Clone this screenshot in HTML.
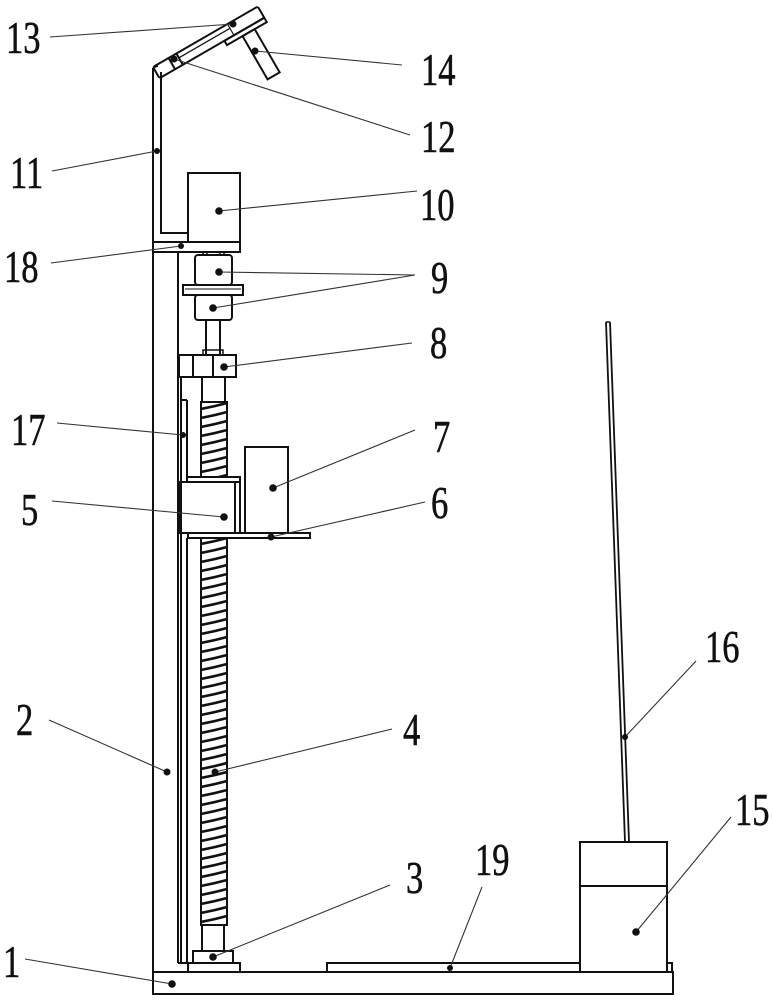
<!DOCTYPE html>
<html>
<head>
<meta charset="utf-8">
<style>
  html,body{margin:0;padding:0;background:#fff;}
  svg{display:block;}
  text{font-family:"Liberation Serif","DejaVu Serif",serif;font-size:46px;fill:#111;stroke:#111;stroke-width:0.6;}
</style>
</head>
<body>
<svg width="773" height="1000" viewBox="0 0 773 1000" xmlns="http://www.w3.org/2000/svg">
<defs>
  <pattern id="th" x="201" y="402" width="26" height="9" patternUnits="userSpaceOnUse">
    <path d="M0,7 Q13,4.5 26,1" fill="none" stroke="#111" stroke-width="2.6"/>
  </pattern>
</defs>
<rect x="0" y="0" width="773" height="1000" fill="#fff"/>

<g fill="none" stroke="#111" stroke-width="2">
  <rect x="153" y="972" width="520" height="22"/>
  <line x1="153" y1="68" x2="153" y2="994"/>
  <line x1="178" y1="252" x2="178" y2="963"/>
  <line x1="178" y1="963" x2="188" y2="963"/>
  <line x1="181" y1="377" x2="181" y2="963"/>
  <line x1="181" y1="400" x2="187" y2="400"/>
  <line x1="187" y1="400" x2="187" y2="477"/>
  <line x1="187" y1="538" x2="187" y2="963"/>

  <path d="M161,72 V233 H188"/>
  <path d="M153,70 Q154,66 158,66"/>

  <rect x="153" y="242" width="87" height="10"/>
  <rect x="188" y="173" width="52" height="69"/>

  <rect x="203" y="252" width="4" height="3" stroke-width="1.5"/>
  <rect x="220" y="252" width="4" height="3" stroke-width="1.5"/>
  <rect x="195" y="255" width="37" height="30" rx="3"/>
  <rect x="183" y="285" width="60" height="10"/>
  <line x1="185" y1="289" x2="241" y2="289" stroke-width="1"/>
  <rect x="195" y="295" width="37" height="25" rx="3"/>
  <rect x="206" y="320" width="14" height="35"/>
  <rect x="203" y="350" width="20" height="5" stroke-width="1.5"/>
  <rect x="179" y="355" width="57" height="22"/>
  <line x1="193" y1="355" x2="193" y2="377"/>
  <line x1="213" y1="355" x2="213" y2="377"/>
  <rect x="202" y="377" width="23" height="25"/>

  <rect x="187" y="477" width="53" height="5"/>
  <rect x="180" y="482" width="60" height="51"/>
  <line x1="235" y1="482" x2="235" y2="533"/>
  <rect x="188" y="533" width="122" height="5"/>
  <rect x="245" y="447" width="43" height="86"/>

  <rect x="202" y="925" width="22" height="26"/>
  <rect x="193" y="951" width="40" height="12"/>
  <rect x="188" y="963" width="52" height="9"/>

  <rect x="327" y="963" width="253" height="9"/>
  <rect x="580" y="842" width="87" height="130"/>
  <line x1="580" y1="886" x2="667" y2="886"/>
  <rect x="667" y="963" width="5" height="9"/>

  <line x1="606" y1="322" x2="625" y2="842" stroke-width="1.8"/>
  <line x1="610" y1="322" x2="629" y2="842" stroke-width="1.8"/>
  <line x1="606" y1="322" x2="610" y2="322" stroke-width="1.5"/>

  <g transform="translate(153,67) rotate(-30)">
    <rect x="0" y="0" width="121" height="13" rx="2"/>
    <line x1="18" y1="0" x2="18" y2="13"/>
    <line x1="27" y1="0" x2="27" y2="13"/>
    <line x1="27" y1="5" x2="86" y2="5" stroke-width="1.2"/>
    <line x1="86" y1="0" x2="86" y2="13" stroke-width="1.2"/>
    <rect x="75" y="13" width="46" height="5"/>
    <rect x="93" y="18" width="14" height="50"/>
  </g>
</g>

<g stroke="#111" stroke-width="2">
  <rect x="201" y="402" width="26" height="75" fill="url(#th)"/>
  <rect x="201" y="538" width="26" height="387" fill="url(#th)"/>
</g>

<g stroke="#333" stroke-width="1.1" fill="none">
  <line x1="50" y1="37" x2="233" y2="24"/>
  <line x1="255" y1="51" x2="402" y2="65"/>
  <line x1="174" y1="59" x2="410" y2="135"/>
  <line x1="52" y1="171" x2="157" y2="151"/>
  <line x1="219" y1="211" x2="417" y2="191"/>
  <line x1="51" y1="263" x2="181" y2="246"/>
  <line x1="219" y1="272" x2="415" y2="275"/>
  <line x1="213" y1="308" x2="415" y2="275"/>
  <line x1="224" y1="367" x2="412" y2="343"/>
  <line x1="57" y1="423" x2="183" y2="435"/>
  <line x1="273" y1="488" x2="415" y2="430"/>
  <line x1="52" y1="501" x2="224" y2="517"/>
  <line x1="271" y1="537" x2="425" y2="502"/>
  <line x1="625" y1="737" x2="696" y2="661"/>
  <line x1="49" y1="720" x2="167" y2="772"/>
  <line x1="215" y1="772" x2="392" y2="729"/>
  <line x1="731" y1="817" x2="636" y2="932"/>
  <line x1="213" y1="957" x2="390" y2="885"/>
  <line x1="482" y1="887" x2="450" y2="968"/>
  <line x1="25" y1="959" x2="172" y2="984"/>
</g>

<g fill="#111">
  <circle cx="233" cy="24" r="3.5"/>
  <circle cx="255" cy="51" r="3.5"/>
  <circle cx="174" cy="59" r="3.5"/>
  <circle cx="157" cy="151" r="3"/>
  <circle cx="219" cy="211" r="3.8"/>
  <circle cx="181" cy="246" r="3"/>
  <circle cx="219" cy="272" r="3.8"/>
  <circle cx="213" cy="308" r="3.8"/>
  <circle cx="224" cy="367" r="3.8"/>
  <circle cx="183" cy="435" r="3"/>
  <circle cx="273" cy="488" r="3.8"/>
  <circle cx="224" cy="517" r="3.8"/>
  <circle cx="271" cy="537" r="3.5"/>
  <circle cx="625" cy="737" r="3"/>
  <circle cx="167" cy="772" r="3.5"/>
  <circle cx="215" cy="772" r="3.5"/>
  <circle cx="636" cy="932" r="3.8"/>
  <circle cx="213" cy="957" r="3.8"/>
  <circle cx="450" cy="968" r="3"/>
  <circle cx="172" cy="984" r="3.8"/>
</g>

<g>
  <text transform="translate(6,53) scale(0.75,1)">13</text>
  <text transform="translate(421,85) scale(0.75,1)">14</text>
  <text transform="translate(421,152) scale(0.75,1)">12</text>
  <text transform="translate(10,188) scale(0.75,1)">11</text>
  <text transform="translate(420,220) scale(0.75,1)">10</text>
  <text transform="translate(4,282) scale(0.75,1)">18</text>
  <text transform="translate(431,293) scale(0.75,1)">9</text>
  <text transform="translate(430,358) scale(0.75,1)">8</text>
  <text transform="translate(11,445) scale(0.75,1)">17</text>
  <text transform="translate(433,452) scale(0.75,1)">7</text>
  <text transform="translate(21,525) scale(0.75,1)">5</text>
  <text transform="translate(431,518) scale(0.75,1)">6</text>
  <text transform="translate(705,662) scale(0.75,1)">16</text>
  <text transform="translate(16,735) scale(0.75,1)">2</text>
  <text transform="translate(403,745) scale(0.75,1)">4</text>
  <text transform="translate(735,825) scale(0.75,1)">15</text>
  <text transform="translate(406,893) scale(0.75,1)">3</text>
  <text transform="translate(475,875) scale(0.75,1)">19</text>
  <text transform="translate(3,977) scale(0.75,1)">1</text>
</g>
</svg>
</body>
</html>
